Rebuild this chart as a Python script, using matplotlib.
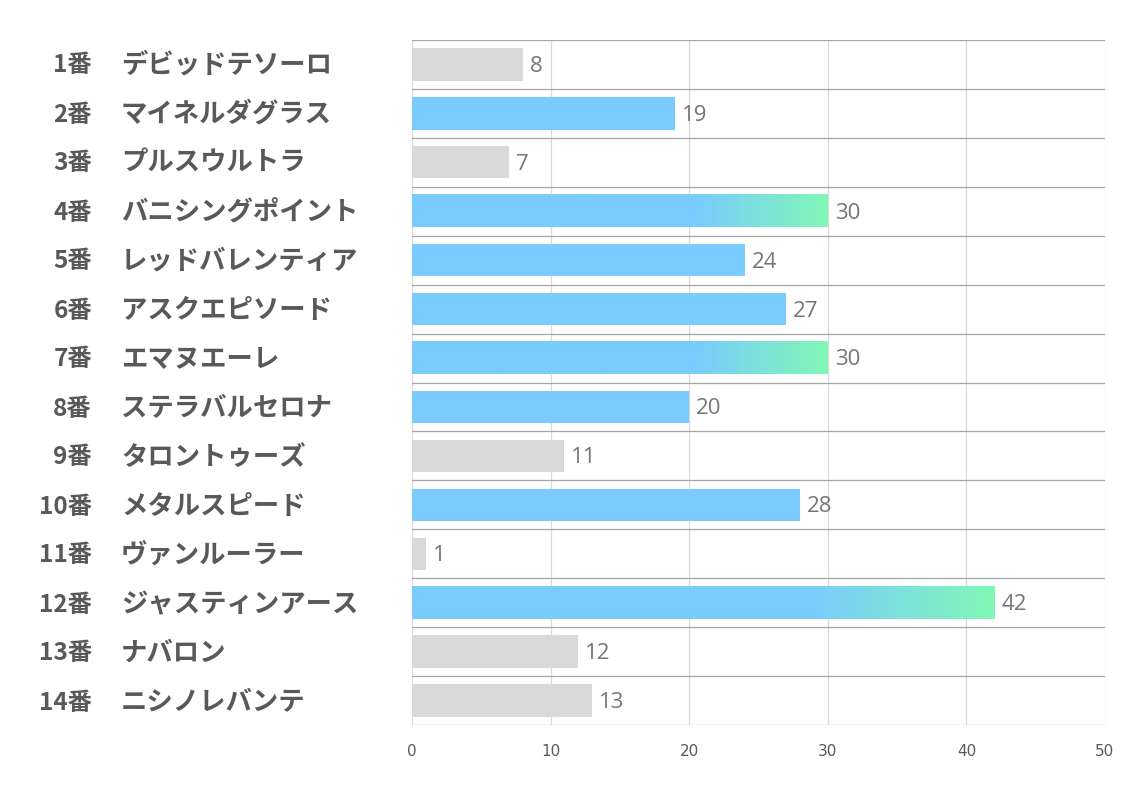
import numpy as np
import matplotlib.pyplot as plt
from matplotlib.colors import LinearSegmentedColormap

plt.rcParams['font.family'] = ['Noto Sans CJK JP', 'DejaVu Sans']

numbers = ['1番', '2番', '3番', '4番', '5番', '6番', '7番', '8番', '9番', '10番',
           '11番', '12番', '13番', '14番']
names = ['デビッドテソーロ', 'マイネルダグラス', 'プルスウルトラ', 'バニシングポイント',
         'レッドバレンティア', 'アスクエピソード', 'エマヌエーレ', 'ステラバルセロナ',
         'タロントゥーズ', 'メタルスピード', 'ヴァンルーラー', 'ジャスティンアース',
         'ナバロン', 'ニシノレバンテ']
values = [8, 19, 7, 30, 24, 27, 30, 20, 11, 28, 1, 42, 12, 13]
highlighted = [False, True, False, True, True, True, True, True, False, True,
               False, True, False, False]
gradientBars = [False, False, False, True, False, False, True, False, False, False,
                False, True, False, False]

blueColor = '#7ACBFE'
greenColor = '#80F8B6'
grayColor = '#D9D9D9'
gradientMap = LinearSegmentedColormap.from_list('bg', [blueColor, greenColor])

fig = plt.figure(figsize=(11.34, 7.93), dpi=100)
ax = fig.add_axes([412 / 1134, 1 - 725 / 793, (1105 - 412) / 1134, (725 - 40) / 793])

rowCount = len(values)
barHeight = 0.66
yPositions = np.arange(rowCount)

for i, value in enumerate(values):
    if gradientBars[i]:
        # blue for the first 68% of the bar, then a blend to green
        ramp = np.clip((np.linspace(0, 1, 400) - 0.68) / 0.32, 0, 1).reshape(1, -1)
        ax.imshow(ramp, cmap=gradientMap, aspect='auto', zorder=2,
                  extent=[0, value, yPositions[i] + barHeight / 2,
                          yPositions[i] - barHeight / 2],
                  interpolation='bilinear')
    else:
        color = blueColor if highlighted[i] else grayColor
        ax.barh(yPositions[i], value, height=barHeight, color=color, zorder=2)
    ax.text(value + 0.5, yPositions[i] + 0.04, str(value), va='center', ha='left',
            fontsize=16, color='#767676', family=['Open Sans', 'DejaVu Sans'])

ax.set_xlim(0, 50)
ax.set_ylim(rowCount - 0.5, -0.5)

# vertical grid
for xValue in range(0, 51, 10):
    ax.axvline(xValue, color='#D9D9D9', linewidth=0.9, zorder=1)
# horizontal row separators
for boundary in np.arange(-0.5, rowCount, 1.0):
    ax.axhline(boundary, color='#A6A6A6', linewidth=0.9, zorder=4)

for spine in ax.spines.values():
    spine.set_visible(False)

ax.set_yticks([])
ax.set_xticks(range(0, 51, 10))
ax.tick_params(axis='x', length=0, pad=14, labelsize=11, labelcolor='#595959')
for label in ax.get_xticklabels():
    label.set_family(['Liberation Sans Narrow', 'DejaVu Sans'])

for i in range(rowCount):
    yFig = 1 - (41 + 49 * (i + 0.5)) / 793
    fig.text(92 / 1134, yFig, numbers[i], ha='right', va='center', fontsize=17.5,
             fontweight='bold', color='#595959')
    fig.text(121 / 1134, yFig, names[i], ha='left', va='center', fontsize=19,
             fontweight='bold', color='#595959')

fig.savefig('out.png', dpi=100)
